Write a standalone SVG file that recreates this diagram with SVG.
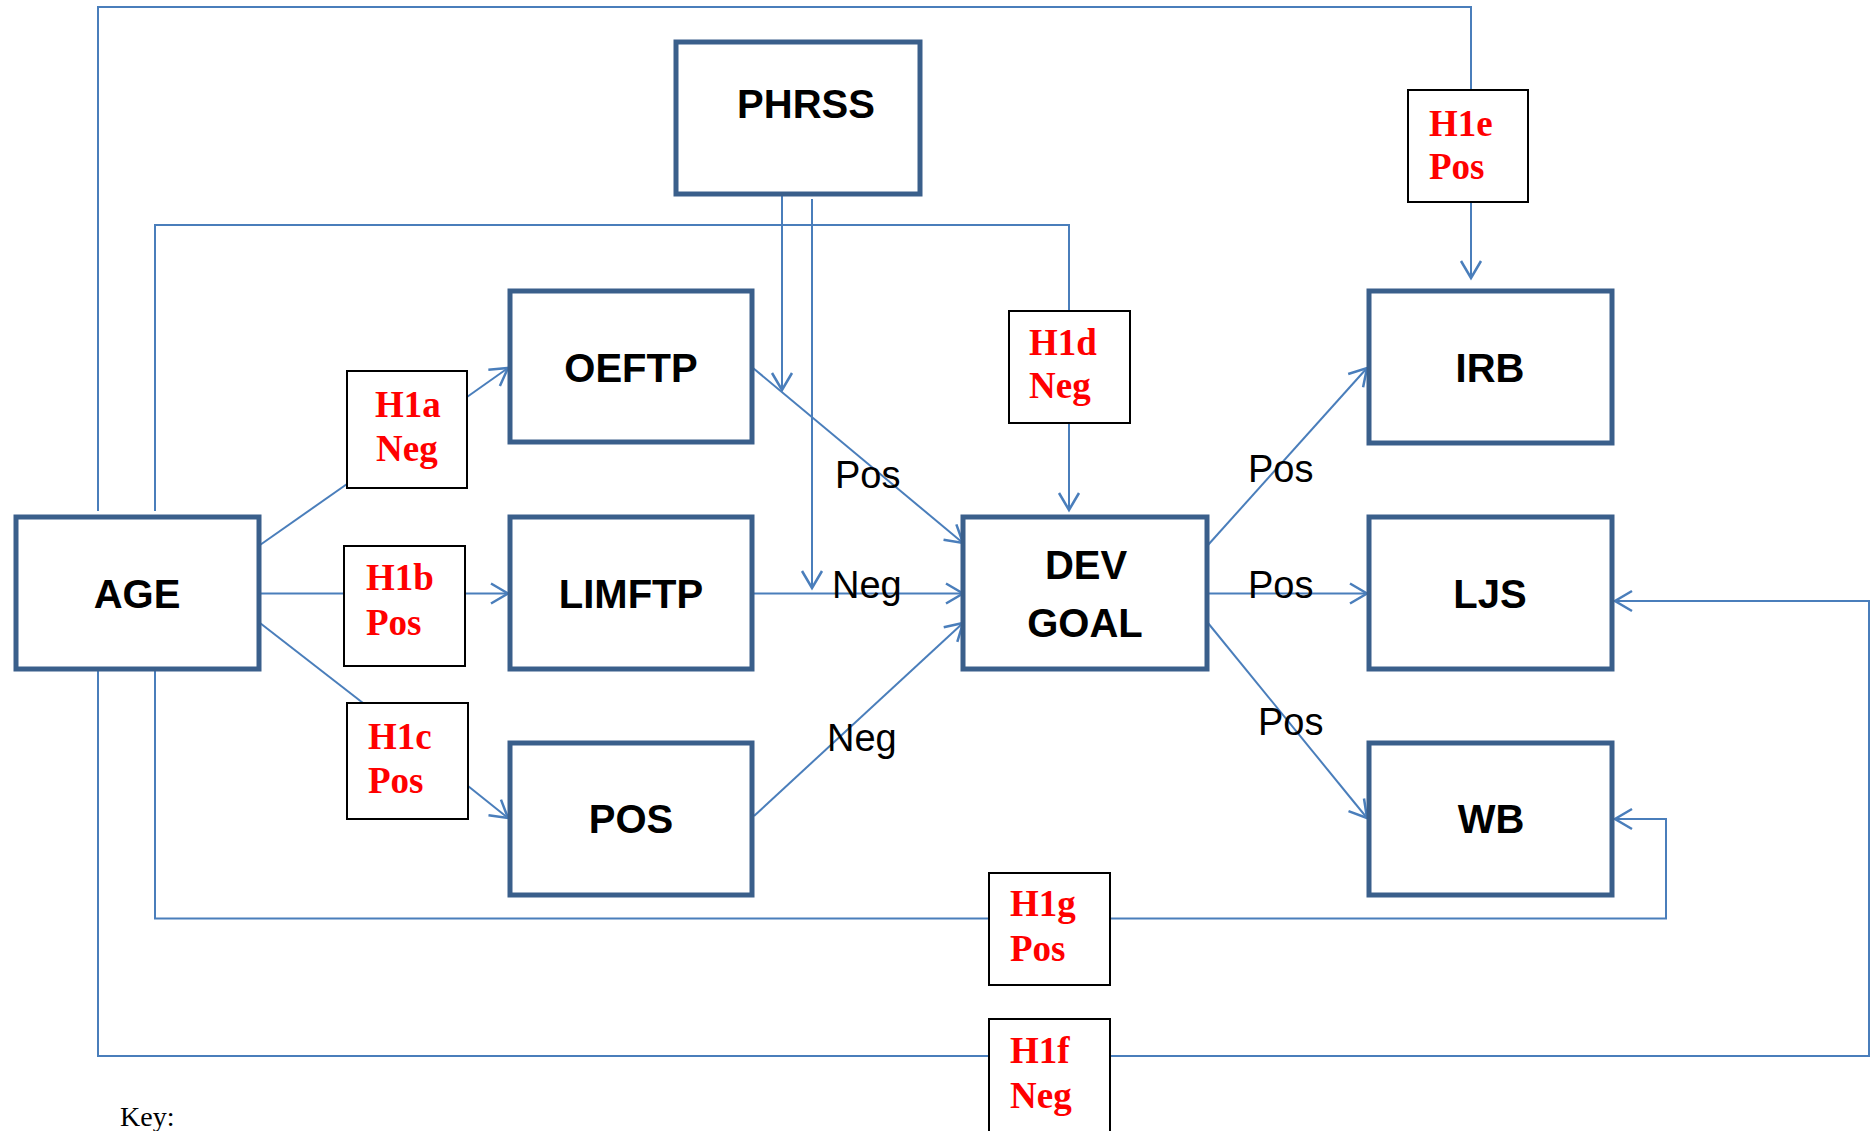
<svg xmlns="http://www.w3.org/2000/svg" width="1872" height="1131" viewBox="0 0 1872 1131">
<style>
.node{fill:#fff;stroke:#3a5f8b;stroke-width:5}
.hyp{fill:#fff;stroke:#000;stroke-width:2}
.nt{font-family:"Liberation Sans",Arial,sans-serif;font-weight:bold;font-size:40px;fill:#000;text-anchor:middle}
.ht{font-family:"Liberation Serif","Times New Roman",serif;font-weight:bold;font-size:37px;fill:#ff0000}
.el{font-family:"Liberation Sans",Arial,sans-serif;font-size:38px;fill:#000}
.c{fill:none;stroke:#4a7ebb;stroke-width:2}
.a{marker-end:url(#arr)}
.key{font-family:"Liberation Serif","Times New Roman",serif;font-size:28px;fill:#000}
</style>
<defs>
<marker id="arr" markerUnits="userSpaceOnUse" markerWidth="24" markerHeight="24" viewBox="-20 -12 24 24" refX="0" refY="0" orient="auto">
<path d="M -17 -10 L 0 0 L -17 10" fill="none" stroke="#4a7ebb" stroke-width="2.5"/>
</marker>
</defs>
<rect width="1872" height="1131" fill="#fff"/>
<g id="connectors">
<polyline class="c" points="98,511 98,7 1471,7 1471,90"/>
<line class="c a" x1="1471" y1="202" x2="1471" y2="278"/>
<polyline class="c" points="155,511 155,225 1069,225 1069,311"/>
<line class="c a" x1="1069" y1="423" x2="1069" y2="510"/>
<line class="c a" x1="782" y1="194" x2="782" y2="390"/>
<line class="c a" x1="812" y1="199" x2="812" y2="588"/>
<line class="c" x1="260" y1="545" x2="347" y2="484"/>
<line class="c a" x1="467" y1="397" x2="508" y2="368"/>
<line class="c" x1="259" y1="593.5" x2="344" y2="593.5"/>
<line class="c a" x1="465" y1="593.5" x2="508" y2="593.5"/>
<line class="c" x1="260" y1="623" x2="363" y2="703"/>
<line class="c a" x1="468" y1="786" x2="508" y2="818"/>
<line class="c a" x1="753" y1="368" x2="963" y2="543"/>
<line class="c a" x1="753" y1="593.5" x2="963" y2="593.5"/>
<line class="c a" x1="754" y1="816" x2="963" y2="623"/>
<line class="c a" x1="1208" y1="545" x2="1367" y2="368"/>
<line class="c a" x1="1208" y1="593.5" x2="1367" y2="593.5"/>
<line class="c a" x1="1208" y1="623" x2="1367" y2="818"/>
<polyline class="c" points="155,669 155,918.5 989,918.5"/>
<polyline class="c a" points="1110,918.5 1666,918.5 1666,819 1615,819"/>
<polyline class="c" points="98,669 98,1056 989,1056"/>
<polyline class="c a" points="1110,1056 1869,1056 1869,601 1615,601"/>
</g>
<g id="PHRSS"><rect class="node" x="676" y="42" width="244" height="152"/><text class="nt" x="806" y="118">PHRSS</text></g>
<g id="OEFTP"><rect class="node" x="510" y="291" width="242" height="151"/><text class="nt" x="631" y="382">OEFTP</text></g>
<g id="LIMFTP"><rect class="node" x="510" y="517" width="242" height="152"/><text class="nt" x="631" y="608">LIMFTP</text></g>
<g id="POS"><rect class="node" x="510" y="743" width="242" height="152"/><text class="nt" x="631" y="833">POS</text></g>
<g id="AGE"><rect class="node" x="16" y="517" width="243" height="152"/><text class="nt" x="137" y="608">AGE</text></g>
<g id="DEVGOAL"><rect class="node" x="963" y="517" width="244" height="152"/><text class="nt" x="1086" y="579">DEV</text><text class="nt" x="1085" y="637">GOAL</text></g>
<g id="IRB"><rect class="node" x="1369" y="291" width="243" height="152"/><text class="nt" x="1490" y="382">IRB</text></g>
<g id="LJS"><rect class="node" x="1369" y="517" width="243" height="152"/><text class="nt" x="1490" y="608">LJS</text></g>
<g id="WB"><rect class="node" x="1369" y="743" width="243" height="152"/><text class="nt" x="1491" y="833">WB</text></g>
<g id="H1a"><rect class="hyp" x="347" y="371" width="120" height="117"/><text class="ht" x="375" y="417">H1a</text><text class="ht" x="376" y="461">Neg</text></g>
<g id="H1b"><rect class="hyp" x="344" y="546" width="121" height="120"/><text class="ht" x="366" y="590">H1b</text><text class="ht" x="366" y="635">Pos</text></g>
<g id="H1c"><rect class="hyp" x="347" y="703" width="121" height="116"/><text class="ht" x="368" y="749">H1c</text><text class="ht" x="368" y="793">Pos</text></g>
<g id="H1d"><rect class="hyp" x="1009" y="311" width="121" height="112"/><text class="ht" x="1029" y="355">H1d</text><text class="ht" x="1029" y="398">Neg</text></g>
<g id="H1e"><rect class="hyp" x="1408" y="90" width="120" height="112"/><text class="ht" x="1429" y="136">H1e</text><text class="ht" x="1429" y="179">Pos</text></g>
<g id="H1g"><rect class="hyp" x="989" y="873" width="121" height="112"/><text class="ht" x="1010" y="916">H1g</text><text class="ht" x="1010" y="961">Pos</text></g>
<g id="H1f"><rect class="hyp" x="989" y="1019" width="121" height="130"/><text class="ht" x="1010" y="1063">H1f</text><text class="ht" x="1010" y="1108">Neg</text></g>
<g id="edge-labels">
<text class="el" x="835" y="488">Pos</text>
<text class="el" x="832" y="598">Neg</text>
<text class="el" x="827" y="751">Neg</text>
<text class="el" x="1248" y="482">Pos</text>
<text class="el" x="1248" y="598">Pos</text>
<text class="el" x="1258" y="735">Pos</text>
</g>
<text class="key" x="120" y="1126">Key:</text>
</svg>
